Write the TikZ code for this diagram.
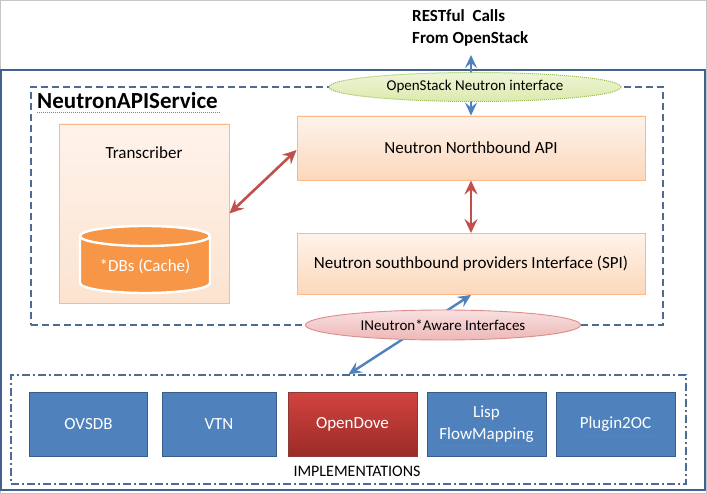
\documentclass[tikz,border=0pt]{standalone}
\usepackage{fontspec}
\setmainfont{Carlito}
\usetikzlibrary{shapes.geometric,arrows.meta}
\definecolor{orBorder}{HTML}{F9B98A}
\definecolor{orTop}{HTML}{FEF3EA}
\definecolor{orBot}{HTML}{FCD8BC}
\definecolor{trBot}{HTML}{FCE3D0}
\definecolor{cylFill}{HTML}{F79646}
\definecolor{bFill}{HTML}{4F81BD}
\definecolor{bBorder}{HTML}{385D8A}
\definecolor{rTop}{HTML}{D2433F}
\definecolor{rBot}{HTML}{9B2B28}
\definecolor{rBorder}{HTML}{8C3836}
\definecolor{arrRed}{HTML}{C0504D}
\definecolor{arrBlue}{HTML}{4F81BD}
\definecolor{frameBlue}{HTML}{41618F}
\definecolor{dashBlue}{HTML}{4E6B94}
\definecolor{grTop}{HTML}{EEF5D6}
\definecolor{grBot}{HTML}{DBEAAE}
\definecolor{grBorder}{HTML}{9BBB59}
\definecolor{pkTop}{HTML}{F8E0E0}
\definecolor{pkBot}{HTML}{EDB8B7}
\definecolor{pkBorder}{HTML}{D98E8C}
\begin{document}
\begin{tikzpicture}[x=1pt,y=-1pt,
  txt/.style={font=\fontsize{17}{21}\selectfont, inner sep=0pt},
  orbox/.style={draw=orBorder, line width=0.9pt, top color=orTop, bottom color=orBot, minimum width=348pt, inner sep=0pt, font=\fontsize{17}{21}\selectfont},
  trbox/.style={draw=orBorder, line width=0.9pt, top color=orTop, bottom color=trBot, inner sep=0pt},
  impbox/.style={draw=bBorder, line width=1pt, fill=bFill, text=white, minimum height=64pt, inner sep=0pt, align=center, font=\fontsize{17}{22}\selectfont},
  redbox/.style={impbox, draw=rBorder, top color=rTop, bottom color=rBot},
  redarr/.style={draw=arrRed, line width=2.6pt, {Stealth[length=14pt,width=13pt,inset=5pt]}-{Stealth[length=14pt,width=13pt,inset=5pt]}},
  bluearr/.style={draw=arrBlue, line width=2.4pt, {Stealth[length=13pt,width=12pt,inset=5pt]}-{Stealth[length=13pt,width=12pt,inset=5pt]}},
  container/.style={draw, inner sep=0pt},
  squig/.style={draw=red!70, line width=0.6pt, dash pattern=on 1pt off 1pt},
  ellgreen/.style={ellipse, draw=grBorder, densely dotted, line width=1pt, top color=grTop, bottom color=grBot, inner sep=0pt, font=\fontsize{15}{18}\selectfont},
  ellpink/.style={ellipse, draw=pkBorder, line width=0.9pt, top color=pkTop, bottom color=pkBot, inner sep=0pt, font=\fontsize{15}{18}\selectfont}
]
\useasboundingbox (0,0) rectangle (707,494);
\fill[white] (0,0) rectangle (707,494);
\draw[gray!45, line width=0.8pt] (0.5,0.5) rectangle (706.5,493.5);

% outer frame
\node[container, draw=frameBlue, line width=1.6pt, minimum width=704pt, minimum height=420pt] (outer) at (353,280) {};

% RESTful text
\node[anchor=west, align=left, font=\bfseries\fontsize{17}{22}\selectfont, inner sep=0pt] (resttxt) at (412,28) {RESTful\ \ Calls\\From OpenStack};
\coordinate (rest) at (471,55);

% dashed service box
\node[container, draw=dashBlue, line width=1.6pt, dash pattern=on 7pt off 4pt, minimum width=632pt, minimum height=238pt] (svc) at (347,206) {};
\node[anchor=west, font=\bfseries\fontsize{23}{26}\selectfont, inner sep=0pt] (title) at (37,101) {NeutronAPIService};
\draw[squig] (37,112) -- (221,112);

% transcriber
\node[trbox, minimum width=170pt, minimum height=179pt] (trans) at (144,213.5) {};
\node[txt] (transl) at (144,153) {Transcriber};
% cylinder
\fill[cylFill] (80,236) -- (80,283) arc[start angle=180, end angle=360, x radius=65pt, y radius=10pt] -- (210,236) -- cycle;
\fill[cylFill] (145,236) ellipse[x radius=65pt, y radius=10pt];
\draw[white, line width=2.4pt] (80,236) -- (80,283) arc[start angle=180, end angle=360, x radius=65pt, y radius=10pt] -- (210,236);
\draw[white, line width=2.4pt] (145,236) ellipse[x radius=65pt, y radius=10pt];
\node[txt, text=white] (db) at (145,266) {*DBs (Cache)};

% API boxes
\node[orbox, minimum height=64pt] (nb) at (471,148) {Neutron Northbound API};
\node[orbox, minimum height=61pt] (spi) at (471,264) {Neutron southbound providers Interface (SPI)};

% implementations container
\node[container, draw=dashBlue, line width=1.4pt, dash pattern=on 8pt off 3pt on 2pt off 3pt, minimum width=675pt, minimum height=109pt] (impl) at (348.5,429.5) {};
\node[font=\fontsize{16}{19}\selectfont, inner sep=0pt] (impllabel) at (357,471) {IMPLEMENTATIONS};

% arrows
\draw[redarr] (trans.east) -- ([yshift=-2pt]nb.west);
\draw[redarr] (nb.south) -- (spi.north);
\draw[bluearr] (nb.north) -- (rest);
\draw[bluearr] (spi.south) -- (impl.north);

% interface ellipses
\node[ellgreen, minimum width=292pt, minimum height=29pt] (osn) at (475,87) {\textcolor{black}{OpenStack Neutron interface}};
\node[ellpink, minimum width=275pt, minimum height=30pt] (ina) at (443,325) {INeutron*Aware Interfaces};

% implementation boxes
\node[impbox, minimum width=118pt] (ovsdb) at (88.5,424) {OVSDB};
\node[impbox, minimum width=114pt] (vtn) at (219,424) {VTN};
\node[redbox, minimum width=129pt] (dove) at (352.5,424) {OpenDove};
\node[impbox, minimum width=119pt] (lisp) at (486.5,424) {Lisp\\FlowMapping};
\node[impbox, minimum width=119pt] (plug) at (615.5,424) {Plugin2OC};
\draw[squig] (439,445) -- (536,445);
\draw[squig] (580,435) -- (653,435);
\end{tikzpicture}
\end{document}
